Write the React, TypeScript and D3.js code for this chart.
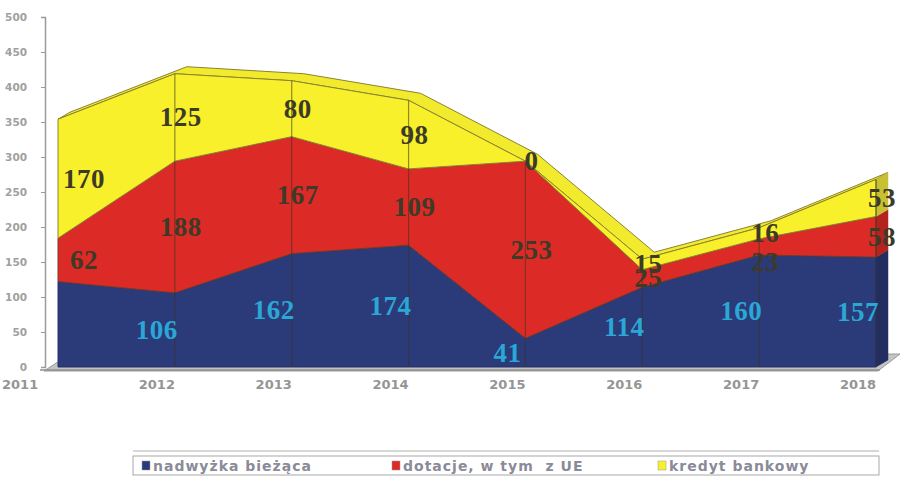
import React, { useEffect, useRef } from 'react';
import * as d3 from 'd3';

const years = ['2011', '2012', '2013', '2014', '2015', '2016', '2017', '2018'];
const nadwyzka = [122, 106, 162, 174, 41, 114, 160, 157];
const dotacje = [62, 188, 167, 109, 253, 25, 23, 58];
const kredyt = [170, 125, 80, 98, 0, 15, 16, 53];
const yTicks = [0, 50, 100, 150, 200, 250, 300, 350, 400, 450, 500];

const seriesNames = ['nadwyżka bieżąca', 'dotacje, w tym  z UE', 'kredyt bankowy'];
const seriesKeys = ['nadwyzka', 'dotacje', 'kredyt'];
const frontColors = ['#2b3a78', '#dc2b27', '#f7f02a'];
const sideColors = ['#222d60', '#b52320', '#c8c033'];
const edgeColors = ['#24306a', '#7a3a22', '#8b8232'];
const labelColors = ['#2aa7d5', '#3d3a28', '#3d3a28'];

const W = 912;
const H = 481;

const App: React.FC = () => {
  const svgRef = useRef<SVGSVGElement>(null);

  useEffect(() => {
    if (!svgRef.current) return;
    const svg = d3.select(svgRef.current);
    svg.selectAll('*').remove();

    const table = years.map((y, i) => ({
      year: y,
      nadwyzka: nadwyzka[i],
      dotacje: dotacje[i],
      kredyt: kredyt[i],
    }));
    const stacked = d3.stack<any>().keys(seriesKeys)(table);

    const x = d3.scalePoint<string>().domain(years).range([58, 876]);
    const y = d3.scaleLinear().domain([0, 500]).range([367, 17]);
    const dx = 12;
    const dy = -7;
    const base = y(0);
    const pts = (a: number[][]) => a.map(p => p.join(',')).join(' ');

    // floor
    svg.append('polygon')
      .attr('points', pts([[44, base + 4], [878, base + 4], [878 + dx + 10, base + dy - 6], [58 + dx, base + dy - 6]]))
      .attr('fill', '#c4c4c4')
      .attr('stroke', '#9a9a9a')
      .attr('stroke-width', 1);

    // top strip of the stack (3D depth)
    const top = stacked[stacked.length - 1];
    const topPts = top.map((d, i) => [x(years[i])!, y(d[1])]);
    const backPts = topPts.map(p => [p[0] + dx, p[1] + dy]).reverse();
    svg.append('polygon')
      .attr('points', pts(topPts.concat(backPts)))
      .attr('fill', '#f2ea2c')
      .attr('stroke', '#8b8232')
      .attr('stroke-width', 1);

    // right side face
    const last = years.length - 1;
    const xr = x(years[last])!;
    stacked.forEach((layer, k) => {
      const d = layer[last];
      svg.append('polygon')
        .attr('points', pts([[xr, y(d[0])], [xr, y(d[1])], [xr + dx, y(d[1]) + dy], [xr + dx, y(d[0]) + dy]]))
        .attr('fill', sideColors[k])
        .attr('stroke', sideColors[k])
        .attr('stroke-width', 0.5);
    });

    // front faces
    const area = d3.area<any>()
      .x((d, i) => x(years[i])!)
      .y0(d => y(d[0]))
      .y1(d => y(d[1]));

    svg.append('g')
      .selectAll('path')
      .data(stacked)
      .join('path')
      .attr('d', area as any)
      .attr('fill', (d, k) => frontColors[k])
      .attr('stroke', (d, k) => edgeColors[k])
      .attr('stroke-width', 1);

    // vertical lines at each year
    svg.append('g')
      .selectAll('line')
      .data(years.slice(1))
      .join('line')
      .attr('x1', d => x(d)!)
      .attr('x2', d => x(d)!)
      .attr('y1', base)
      .attr('y2', d => y(top[years.indexOf(d)][1]))
      .attr('stroke', '#3a3320')
      .attr('stroke-opacity', 0.55)
      .attr('stroke-width', 1.2);

    // y axis
    const yAxis = svg.append('g')
      .attr('transform', 'translate(45,0)')
      .call(d3.axisLeft(y).tickValues(yTicks).tickSize(4).tickPadding(14));
    yAxis.select('.domain').attr('stroke', '#9a9a9a').attr('stroke-width', 1.5);
    yAxis.selectAll('.tick line').attr('stroke', '#9a9a9a');
    yAxis.selectAll('.tick text')
      .attr('fill', '#a0a0a0')
      .attr('font-size', '10.5px')
      .attr('font-weight', 'bold')
      .attr('font-family', 'DejaVu Sans, sans-serif');

    // baseline
    svg.append('line')
      .attr('x1', 40).attr('x2', 880)
      .attr('y1', base + 3).attr('y2', base + 3)
      .attr('stroke', '#8f8f8f')
      .attr('stroke-width', 1.5);

    // x labels
    svg.append('g')
      .selectAll('text')
      .data(years)
      .join('text')
      .attr('x', (d, i) => (i === 0 ? 2 : x(d)! - 18))
      .attr('y', 389)
      .attr('text-anchor', (d, i) => (i === 0 ? 'start' : 'middle'))
      .attr('fill', '#959595')
      .attr('font-size', '13px')
      .attr('font-weight', 'bold')
      .attr('font-family', 'DejaVu Sans, sans-serif')
      .text(d => d);

    // data labels
    stacked.forEach((layer, k) => {
      svg.append('g')
        .selectAll('text')
        .data(layer)
        .join('text')
        .attr('x', (d, i) => {
          const px = x(years[i])!;
          if (i === 0) return px + 26;
          return k === 0 ? px - 18 : px + 6;
        })
        .attr('y', (d, i) => y((d[0] + d[1]) / 2) + 9 + (k === 1 && i === 6 ? 15 : 0))
        .attr('text-anchor', 'middle')
        .attr('fill', labelColors[k])
        .attr('font-size', '27px')
        .attr('font-weight', 'bold')
        .attr('letter-spacing', '0.5px')
        .attr('font-family', 'Liberation Serif, Times New Roman, serif')
        .text((d, i) => (k === 0 && i === 0 ? '' : String(d[1] - d[0])));
    });

    // legend
    const lg = svg.append('g');
    lg.append('line')
      .attr('x1', 133).attr('x2', 879)
      .attr('y1', 451).attr('y2', 451)
      .attr('stroke', '#b0b0b0');
    lg.append('rect')
      .attr('x', 133).attr('y', 456)
      .attr('width', 746).attr('height', 19)
      .attr('fill', '#ffffff')
      .attr('stroke', '#a8a8a8')
      .attr('stroke-width', 1);
    const legX = [142, 392, 658];
    seriesNames.forEach((name, k) => {
      lg.append('rect')
        .attr('x', legX[k]).attr('y', 461)
        .attr('width', 8).attr('height', 9)
        .attr('fill', frontColors[k])
        .attr('stroke', '#999')
        .attr('stroke-width', 0.5);
      lg.append('text')
        .attr('x', legX[k] + 11).attr('y', 471)
        .attr('fill', '#8a8a98')
        .attr('font-size', '14px')
        .attr('font-weight', 'bold')
        .attr('letter-spacing', '1px')
        .attr('font-family', 'DejaVu Sans, sans-serif')
        .style('white-space', 'pre')
        .text(name);
    });
  }, []);

  return (
    <svg
      ref={svgRef}
      width={W}
      height={H}
      style={{ position: 'absolute', left: 0, top: 0, background: '#fff' }}
    />
  );
};

export default App;
